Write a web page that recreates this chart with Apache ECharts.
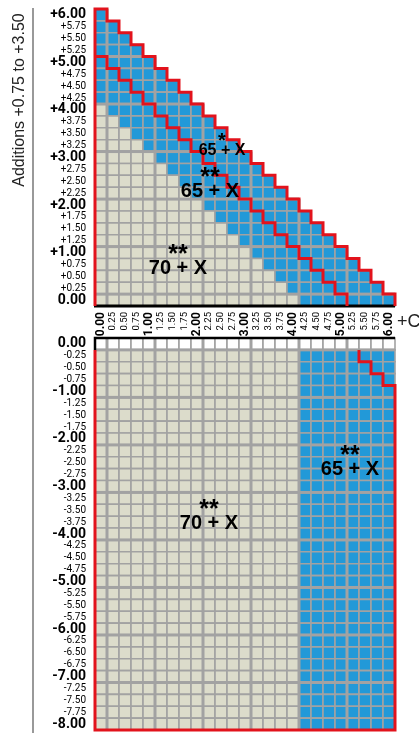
<!DOCTYPE html>
<html><head><meta charset="utf-8">
<script src="https://cdn.jsdelivr.net/npm/echarts@6/dist/echarts.min.js"></script>
<style>html,body{margin:0;padding:0;background:#fff}#c{width:419px;height:733px}</style>
</head><body><div id="c"></div>
<script>
// ---- data ----
const xLabels = ['0.00','0.25','0.50','0.75','1.00','1.25','1.50','1.75','2.00','2.25','2.50','2.75','3.00','3.25','3.50','3.75','4.00','4.25','4.50','4.75','5.00','5.25','5.50','5.75','6.00'];
const topRowLabels = ['+6.00','+5.75','+5.50','+5.25','+5.00','+4.75','+4.50','+4.25','+4.00','+3.75','+3.50','+3.25','+3.00','+2.75','+2.50','+2.25','+2.00','+1.75','+1.50','+1.25','+1.00','+0.75','+0.50','+0.25','0.00'];
const topBeige = [0,0,0,0,0,0,0,0,1,2,3,4,5,6,7,8,9,10,11,12,13,14,15,16,17];
const topBlue  = [1,2,3,4,5,6,7,8,8,8,8,8,8,8,8,8,8,8,8,8,8,8,8,8,8];
const topBlank = [0,0,0,0,0,0,0,0,0,0,0,0,0,0,0,0,0,0,0,0,0,0,0,0,0];
const topInnerRed = [0,0,0,0,1,2,3,4,5,6,7,8,9,10,11,12,13,14,15,16,17,18,19,20,21];
const bottomRowLabels = ['0.00','-0.25','-0.50','-0.75','-1.00','-1.25','-1.50','-1.75','-2.00','-2.25','-2.50','-2.75','-3.00','-3.25','-3.50','-3.75','-4.00','-4.25','-4.50','-4.75','-5.00','-5.25','-5.50','-5.75','-6.00','-6.25','-6.50','-6.75','-7.00','-7.25','-7.50','-7.75','-8.00'];
const bottomBeige = [0,17,17,17,17,17,17,17,17,17,17,17,17,17,17,17,17,17,17,17,17,17,17,17,17,17,17,17,17,17,17,17,17];
const bottomBlue  = [0,8,8,8,8,8,8,8,8,8,8,8,8,8,8,8,8,8,8,8,8,8,8,8,8,8,8,8,8,8,8,8,8];
const bottomBlank = [25,0,0,0,0,0,0,0,0,0,0,0,0,0,0,0,0,0,0,0,0,0,0,0,0,0,0,0,0,0,0,0,0];
const bottomInnerRed = [0,22,23,24,25,25,25,25,25,25,25,25,25,25,25,25,25,25,25,25,25,25,25,25,25,25,25,25,25,25,25,25,25];

// ---- styles ----
const FILL = ['#ffffff', '#dcdccb', '#2299d8'];
const GRID = '#a2a2a2';
const RED = '#e2131c';
const LBL = 'Roboto,"DejaVu Sans Condensed",sans-serif';
const SANS = '"Liberation Sans",Arial,sans-serif';

function buildCells(beige, blue, blank) {
  const out = [];
  beige.forEach((_, r) => {
    let xi = 0;
    for (let k = 0; k < beige[r]; k++) out.push([xi++, r, 1]);
    for (let k = 0; k < blue[r]; k++) out.push([xi++, r, 2]);
    for (let k = 0; k < blank[r]; k++) out.push([xi++, r, 0]);
  });
  return out;
}
const topCells = buildCells(topBeige, topBlue, topBlank);
const bottomCells = buildCells(bottomBeige, bottomBlue, bottomBlank);
const isMajor = s => /\.00$/.test(s);

function cellRender(params, api) {
  const c = api.coord([api.value(0), api.value(1)]);
  const s = api.size([1, 1]);
  return { type: 'rect', shape: { x: c[0] - s[0] / 2, y: c[1] - s[1] / 2, width: s[0], height: s[1] },
    style: { fill: FILL[api.value(2)], stroke: GRID, lineWidth: 1.6 } };
}
function majorRender(rowLabels, isTop) {
  return function (params, api) {
    const xi = api.value(0), r = api.value(1);
    const c = api.coord([xi, r]);
    const s = api.size([1, 1]);
    const L = c[0] - s[0] / 2, R = c[0] + s[0] / 2, T = c[1] - s[1] / 2, B = c[1] + s[1] / 2;
    const kids = [];
    const st = { stroke: GRID, lineWidth: 3 };
    if (isMajor(xLabels[xi]) && xi < xLabels.length - 1) kids.push({ type: 'line', shape: { x1: R, y1: T, x2: R, y2: B }, style: st });
    if (isMajor(rowLabels[r])) {
      if (isTop && r > 0) kids.push({ type: 'line', shape: { x1: L, y1: T, x2: R, y2: T }, style: st });
      if (!isTop && r < rowLabels.length - 1) kids.push({ type: 'line', shape: { x1: L, y1: B, x2: R, y2: B }, style: st });
    }
    return { type: 'group', children: kids };
  };
}
function edgeFns(api) {
  const c = api.coord([0, 0]);
  const s = api.size([1, 1]);
  return { X: e => c[0] - s[0] / 2 + e * s[0], Y: e => c[1] - s[1] / 2 + e * s[1] };
}
function topBorderRender(params, api) {
  const { X, Y } = edgeFns(api);
  const n = topRowLabels.length, m = xLabels.length;
  const outer = [[X(0), Y(n)], [X(0), Y(0)]];
  topBeige.forEach((_, r) => { const c = topBeige[r] + topBlue[r]; outer.push([X(c), Y(r)], [X(c), Y(r + 1)]); });
  const inner = [];
  topInnerRed.forEach((c, r) => {
    if (c === 0) return;
    if (!inner.length) inner.push([X(0), Y(r)]);
    inner.push([X(c), Y(r)], [X(c), Y(r + 1)]);
  });
  const redSt = { stroke: RED, lineWidth: 3, fill: null, lineJoin: 'miter' };
  return { type: 'group', children: [
    { type: 'line', shape: { x1: X(0) - 1, y1: Y(n), x2: X(m), y2: Y(n) }, style: { stroke: '#000', lineWidth: 3 } },
    { type: 'polyline', shape: { points: outer }, style: redSt },
    { type: 'polyline', shape: { points: inner }, style: redSt }
  ] };
}
function bottomBorderRender(params, api) {
  const { X, Y } = edgeFns(api);
  const n = bottomRowLabels.length, m = xLabels.length;
  let first = bottomInnerRed.findIndex(c => c > 0);
  const red = [[X(0), Y(first)], [X(0), Y(n)]];
  for (let r = n - 1; r >= first; r--) { const c = bottomInnerRed[r]; red.push([X(c), Y(r + 1)], [X(c), Y(r)]); }
  return { type: 'group', children: [
    { type: 'polyline', shape: { points: [[X(0), Y(first)], [X(0), Y(0)], [X(m), Y(0)]] }, style: { stroke: '#000', lineWidth: 2.5, fill: null } },
    { type: 'polyline', shape: { points: red }, style: { stroke: RED, lineWidth: 3, fill: null, lineJoin: 'miter' } }
  ] };
}

const yRich = {
  b: { fontFamily: LBL, fontWeight: 'bold', fontSize: 14, color: '#000' },
  s: { fontFamily: LBL, fontSize: 10, color: '#000' }
};
const xRich = {
  b: { fontFamily: LBL, fontWeight: 'bold', fontSize: 12, color: '#000' },
  s: { fontFamily: LBL, fontSize: 9.5, color: '#000' }
};
const fmt = v => isMajor(v) ? '{b|' + v + '}' : '{s|' + v + '}';

function annot(x, y, stars, text, size) {
  return [
    { type: 'text', z: 50, x: x, y: y - size * 0.62, style: { text: stars, font: 'bold ' + Math.round(size * 1.25) + 'px ' + SANS, fill: '#000', textAlign: 'center', textVerticalAlign: 'middle' } },
    { type: 'text', z: 50, x: x, y: y, style: { text: text, font: 'bold ' + size + 'px ' + SANS, fill: '#000', textAlign: 'center', textVerticalAlign: 'middle' } }
  ];
}

const chart = echarts.init(document.getElementById('c'), null, { renderer: 'canvas' });
chart.setOption({
  animation: false,
  backgroundColor: '#fff',
  grid: [
    { left: 95, top: 9, width: 300, height: 297 },
    { left: 95, top: 338, width: 300, height: 392 }
  ],
  xAxis: [
    { type: 'category', gridIndex: 0, data: xLabels, position: 'bottom', axisLine: { show: false }, axisTick: { show: false }, splitLine: { show: false },
      axisLabel: { rotate: 90, margin: 6, interval: 0, formatter: fmt, rich: xRich } },
    { type: 'category', gridIndex: 1, data: xLabels, position: 'top', axisLine: { show: false }, axisTick: { show: false }, splitLine: { show: false }, axisLabel: { show: false } }
  ],
  yAxis: [
    { type: 'category', gridIndex: 0, data: topRowLabels, inverse: true, axisLine: { show: false }, axisTick: { show: false }, splitLine: { show: false },
      axisLabel: { margin: 9, interval: 0, formatter: fmt, rich: yRich } },
    { type: 'category', gridIndex: 1, data: bottomRowLabels, inverse: true, axisLine: { show: false }, axisTick: { show: false }, splitLine: { show: false },
      axisLabel: { margin: 9, interval: 0, formatter: fmt, rich: yRich } }
  ],
  series: [
    { type: 'custom', xAxisIndex: 0, yAxisIndex: 0, data: topCells, renderItem: cellRender, z: 2, clip: false, silent: true },
    { type: 'custom', xAxisIndex: 0, yAxisIndex: 0, data: topCells, renderItem: majorRender(topRowLabels, true), z: 3, clip: false, silent: true },
    { type: 'custom', xAxisIndex: 0, yAxisIndex: 0, data: [[0, 0]], renderItem: topBorderRender, z: 5, clip: false, silent: true },
    { type: 'custom', xAxisIndex: 1, yAxisIndex: 1, data: bottomCells, renderItem: cellRender, z: 2, clip: false, silent: true },
    { type: 'custom', xAxisIndex: 1, yAxisIndex: 1, data: bottomCells, renderItem: majorRender(bottomRowLabels, false), z: 3, clip: false, silent: true },
    { type: 'custom', xAxisIndex: 1, yAxisIndex: 1, data: [[0, 0]], renderItem: bottomBorderRender, z: 5, clip: false, silent: true }
  ],
  graphic: [
    { type: 'line', z: 10, shape: { x1: 33, y1: 8, x2: 33, y2: 733 }, style: { stroke: '#777', lineWidth: 1.5 } },
    { type: 'text', z: 10, x: 20, y: 100, rotation: Math.PI / 2, style: { text: 'Additions +0.75 to +3.50', font: '16px ' + SANS, fill: '#222', textAlign: 'center', textVerticalAlign: 'middle' } },
    { type: 'text', z: 10, x: 397, y: 322, style: { text: '+C', font: '18px ' + SANS, fill: '#222', textAlign: 'left', textVerticalAlign: 'middle' } }
  ].concat(
    annot(222, 151, '*', '65 + X', 16),
    annot(210, 191, '**', '65 + X', 20),
    annot(178, 268, '**', '70 + X', 20),
    annot(350, 469, '**', '65 + X', 20),
    annot(209, 523, '**', '70 + X', 20)
  )
});
</script></body></html>
